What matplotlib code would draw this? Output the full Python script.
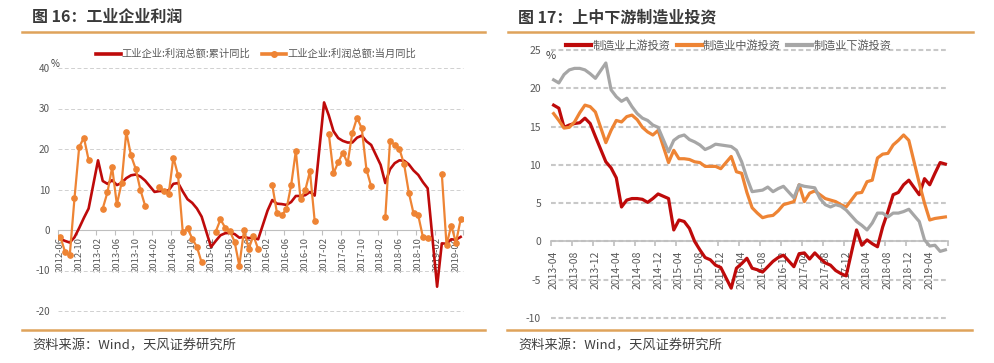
import numpy as np
import matplotlib
matplotlib.use('Agg')
import matplotlib.pyplot as plt
from matplotlib.lines import Line2D

plt.rcParams['font.family'] = ['Noto Sans CJK SC', 'DejaVu Sans']
plt.rcParams['axes.unicode_minus'] = False

W, H = 994, 363
nan = np.nan

DARK_RED = '#BE0A0A'
ORANGE = '#EE8434'
GRAY = '#A6A6A6'
RULE = '#DFA35B'
TEXT = '#595959'


def month_labels(year, month, n):
    return ['%d-%02d' % (year + (month - 1 + k) // 12, (month - 1 + k) % 12 + 1) for k in range(n)]


# 图16: 2012-06 ~ 2019-07, January not published (cumulative), Jan/Feb missing (monthly)
profit_months = month_labels(2012, 6, 86)
profit_cum = [
    -2.2, -2.7, -3.1, -1.8, 0.5, 3.0, 5.3,
    nan, 17.2, 12.1, 11.4, 12.3, 11.1, 11.6, 12.8, 13.5, 13.7, 13.2, 12.2,
    nan, 9.4, 9.6, 9.6, 9.8, 11.4, 11.6, 9.5, 7.6, 6.7, 5.3, 3.3,
    nan, -4.2, -2.7, -1.3, -0.8, -0.7, -1.0, -1.9, -1.7, -2.0, -1.9, -2.3,
    nan, 4.8, 7.4, 6.5, 6.4, 6.2, 6.9, 8.4, 8.4, 8.6, 9.4, 8.5,
    nan, 31.5, 28.3, 24.4, 22.7, 22.0, 21.6, 21.6, 22.8, 23.3, 21.9, 21.0,
    nan, 16.1, 11.6, 15.0, 16.5, 17.2, 17.1, 16.2, 14.7, 13.6, 11.8, 10.3,
    nan, -14.0, -3.3, -3.4, -2.3, -2.4, -1.7,
]
profit_month = [
    -1.7, -5.4, -6.2, 7.8, 20.5, 22.8, 17.3,
    nan, nan, 5.3, 9.3, 15.5, 6.3, 11.6, 24.2, 18.4, 15.1, 9.9, 6.0,
    nan, nan, 10.7, 9.6, 8.9, 17.9, 13.5, -0.6, 0.4, -2.1, -4.2, -8.0,
    nan, nan, -0.4, 2.6, 0.6, -0.3, -2.9, -8.8, -0.1, -4.6, -1.4, -4.7,
    nan, nan, 11.1, 4.2, 3.7, 5.1, 11.0, 19.5, 7.7, 9.8, 14.5, 2.3,
    nan, nan, 23.8, 14.0, 16.7, 19.1, 16.5, 24.0, 27.7, 25.1, 14.9, 10.8,
    nan, nan, 3.1, 21.9, 21.1, 20.0, 16.2, 9.2, 4.1, 3.6, -1.8, -1.9,
    nan, nan, 13.9, -3.7, 1.1, -3.1, 2.6,
]

# 图17: 2013-04 ~ 2019-07, January missing
invest_months = month_labels(2013, 4, 76)
invest_up = [
    17.8, 17.4, 14.9, 15.2, 15.4, 15.5, 16.1, 15.4, 13.7,
    nan, 10.4, 9.6, 8.3, 4.5, 5.4, 5.6, 5.6, 5.5, 5.1, 5.6, 6.2,
    nan, 5.6, 1.5, 2.8, 2.6, 1.7, 0.0, -1.1, -2.1, -2.4, -3.1, -3.4,
    nan, -6.1, -3.5, -2.9, -2.2, -3.5, -3.7, -4.0, -3.3, -2.6, -2.1, -1.8,
    nan, -3.3, -1.6, -1.5, -2.3, -1.5, -2.2, -2.8, -3.1, -3.8, -4.2, -4.5,
    nan, 1.5, -0.5, 0.2, -0.3, -0.7, 1.9, 3.9, 6.1, 6.4, 7.4, 8.0,
    nan, 6.1, 8.2, 7.4, 8.9, 10.3, 10.1,
]
invest_mid = [
    16.7, 15.8, 14.8, 14.9, 15.6, 16.8, 17.8, 17.6, 16.9,
    nan, 12.9, 14.5, 15.8, 15.6, 16.3, 16.5, 15.9, 14.9, 14.3, 13.9, 14.5,
    nan, 10.3, 11.9, 10.8, 10.8, 10.7, 10.4, 10.3, 9.8, 9.8, 9.8, 9.5,
    nan, 11.1, 9.1, 8.9, 6.4, 4.4, 3.7, 3.1, 3.3, 3.4, 4.0, 4.8,
    nan, 5.2, 7.4, 5.2, 6.3, 6.6, 6.1, 5.6, 5.4, 5.2, 4.8, 4.5,
    nan, 6.3, 6.4, 7.8, 8.0, 10.9, 11.4, 11.5, 12.6, 13.2, 13.9, 13.2,
    nan, 7.6, 5.0, 2.8, 3.0, 3.1, 3.2,
]
invest_down = [
    21.1, 20.7, 21.8, 22.4, 22.6, 22.6, 22.4, 21.9, 21.3,
    nan, 23.3, 19.8, 18.9, 18.3, 18.7, 17.6, 16.7, 16.1, 15.8, 15.2, 14.9,
    nan, 11.7, 13.2, 13.7, 13.9, 13.3, 13.0, 12.6, 12.0, 12.3, 12.7, 12.6,
    nan, 12.4, 11.9, 10.4, 8.3, 6.5, 6.6, 6.7, 7.1, 6.5, 6.9, 7.2,
    nan, 5.7, 7.4, 7.2, 7.1, 7.0, 5.6, 4.8, 4.5, 4.8, 4.6, 4.1,
    nan, 2.6, 2.1, 1.5, 2.4, 3.7, 3.7, 3.2, 3.7, 3.7, 3.9, 4.2,
    nan, 2.6, 0.2, -0.6, -0.5, -1.3, -1.1,
]

fig = plt.figure(figsize=(W / 100, H / 100), dpi=100)


def px_axes(x0, y0, x1, y1):
    return fig.add_axes([x0 / W, 1 - y1 / H, (x1 - x0) / W, (y1 - y0) / H])


def fig_line(x0, x1, y, lw=1.8):
    fig.add_artist(Line2D([x0 / W, x1 / W], [1 - y / H, 1 - y / H], color=RULE, lw=lw))


def fig_text(x, y, s, **kw):
    fig.text(x / W, 1 - y / H, s, **kw)


def setup(ax, labels, yticks, xsize, ysize, xpad, ypad, grid_lw, grid_dash, grid_color, zero_lw):
    n = len(labels)
    ax.set_xlim(-0.5, n - 0.5)
    ax.set_ylim(yticks[0], yticks[-1])
    for side in ('top', 'right', 'left'):
        ax.spines[side].set_visible(False)
    ax.spines['bottom'].set_position(('data', 0))
    ax.spines['bottom'].set_color('#BFBFBF')
    ax.spines['bottom'].set_linewidth(zero_lw)
    ax.spines['bottom'].set_zorder(1)
    pos = list(range(0, n, 4))
    ax.set_xticks(pos)
    ax.set_xticklabels([labels[p] for p in pos], rotation=90, fontsize=xsize, color=TEXT)
    ax.set_xticks([p - 0.5 for p in pos] + [n - 0.5], minor=True)
    ax.tick_params(axis='x', which='major', length=0, pad=xpad)
    ax.tick_params(axis='x', which='minor', length=3.5, width=zero_lw, color='#BFBFBF')
    ax.set_yticks(yticks)
    ax.set_yticklabels([str(v) for v in yticks], fontsize=ysize, color=TEXT)
    ax.tick_params(axis='y', length=0, pad=ypad)
    ax.grid(axis='y', color=grid_color, lw=grid_lw, linestyle=(0, grid_dash))
    ax.set_axisbelow(True)
    for gl in ax.get_ygridlines():
        gl.set_clip_on(False)
    ax.patch.set_alpha(0)


# ---------------- left: 图16 ----------------
ax1 = px_axes(58, 68, 463, 311)
setup(ax1, profit_months, [-20, -10, 0, 10, 20, 30, 40], 6.8, 7.2, 5, 5.8,
      0.7, (4, 2.5), '#D0D0D0', 0.8)

x1 = np.arange(len(profit_months))
cum = np.array(profit_cum)
ok = ~np.isnan(cum)
ax1.plot(x1[ok], cum[ok], color=DARK_RED, lw=1.9, zorder=3)
ax1.plot(x1, profit_month, color=ORANGE, lw=1.6, marker='o', ms=3.8, zorder=4)

h1 = [Line2D([], [], color=DARK_RED, lw=2.6),
      Line2D([], [], color=ORANGE, lw=2.6, marker='o', ms=4)]
ax1.legend(h1, ['工业企业:利润总额:累计同比', '工业企业:利润总额:当月同比'],
           loc='center left', bbox_to_anchor=(96 / W, 1 - 54 / H), bbox_transform=fig.transFigure,
           ncol=2, frameon=False, fontsize=7.4, handlelength=2.4, handletextpad=0.1,
           columnspacing=1.1, borderpad=0, borderaxespad=0, labelcolor=TEXT)
fig_text(55, 64, '%', fontsize=7, color='#404040', ha='center', va='center')

fig_text(32, 17, '图 16：工业企业利润', fontsize=11.5, fontweight='bold', color='#3A3A3A', va='center')
fig_line(22, 485, 32)
fig_line(22, 485, 330)
fig_text(32, 346, '资料来源：Wind，天风证券研究所', fontsize=9.5, color='#404040', va='center')

# ---------------- right: 图17 ----------------
ax2 = px_axes(551, 50, 948, 318)
setup(ax2, invest_months, [-10, -5, 0, 5, 10, 15, 20, 25], 7.5, 7.5, 6.5, 7.2,
      1.5, (2.3, 1.3), '#C8C8C8', 1.2)

x2 = np.arange(len(invest_months))
for vals, col in ((invest_up, DARK_RED), (invest_mid, ORANGE), (invest_down, GRAY)):
    v = np.array(vals)
    ok = ~np.isnan(v)
    ax2.plot(x2[ok], v[ok], color=col, lw=2.3, zorder=3)

h2 = [Line2D([], [], color=c, lw=3) for c in (DARK_RED, ORANGE, GRAY)]
ax2.legend(h2, ['制造业上游投资', '制造业中游投资', '制造业下游投资'],
           loc='center left', bbox_to_anchor=(566 / W, 1 - 45 / H), bbox_transform=fig.transFigure,
           ncol=3, frameon=False, fontsize=8, handlelength=2.25, handletextpad=0.1,
           columnspacing=0.6, borderpad=0, borderaxespad=0, labelcolor=TEXT)
fig_text(551, 56, '%', fontsize=8, color='#404040', ha='center', va='center')

fig_text(518, 17, '图 17：上中下游制造业投资', fontsize=11.5, fontweight='bold', color='#3A3A3A', va='center')
fig_line(508, 973, 32)
fig_line(507, 972, 330)
fig_text(518, 346, '资料来源：Wind，天风证券研究所', fontsize=9.5, color='#404040', va='center')

fig.savefig('out.png', dpi=100)
